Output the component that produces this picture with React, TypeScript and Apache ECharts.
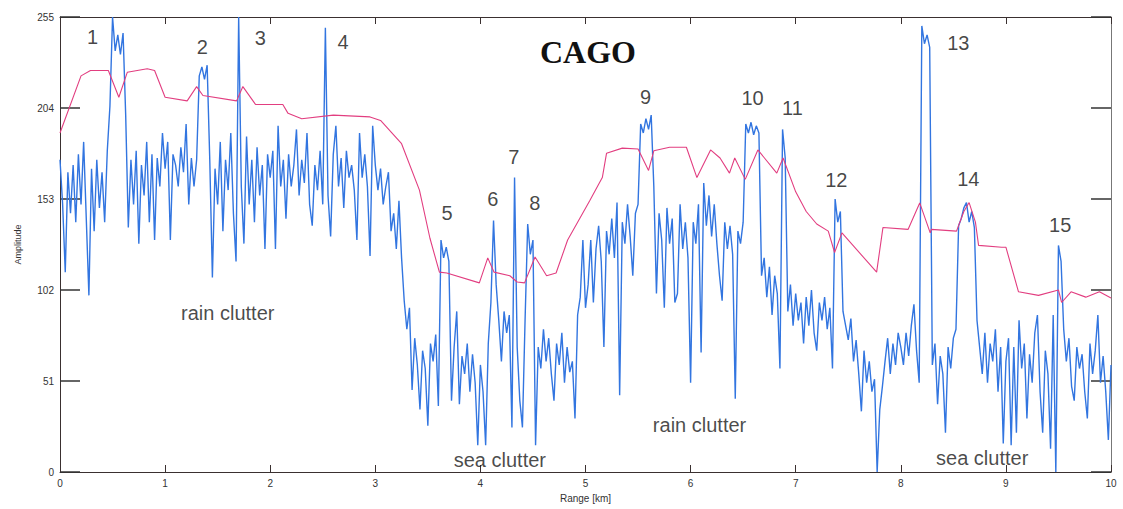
import React, { useEffect, useRef } from "react";
import * as echarts from "echarts";

// Radar return (blue), sampled every 0.025 km, one array per km
const SAMPLE_STEP_KM = 0.025;
const blue0 = [175,150,112,168,145,172,140,178,150,185,142,99,170,135,175,148,168,140,180,205,255,236,245,234,246,200,137,175,150,180,128,172,155,185,140,178,130,176,160,190];
const blue1 = [170,185,130,178,172,160,182,168,195,150,176,160,175,222,227,220,228,175,109,170,150,185,135,175,158,190,145,118,255,160,128,188,150,175,140,182,155,172,125,178];
const blue2 = [165,180,125,194,160,175,142,178,160,172,192,155,175,162,190,150,138,172,158,180,150,249,155,132,178,194,160,176,148,180,165,172,158,130,190,165,178,160,121,194];
const blue3 = [172,158,170,150,160,168,135,145,125,152,120,96,80,92,46,75,60,35,68,58,26,72,62,77,37,130,120,126,118,40,70,90,38,65,55,72,45,66,50,15];
const blue4 = [60,45,15,72,95,141,105,85,62,90,78,88,25,165,70,40,25,85,139,122,130,15,70,58,80,62,75,55,40,72,60,78,50,70,56,62,30,88,98,130];
const blue5 = [92,105,130,95,125,138,118,70,135,122,142,120,151,43,140,128,150,132,110,145,150,195,190,198,192,200,160,100,145,130,92,148,128,142,95,100,150,125,140,120];
const blue6 = [50,140,128,150,67,162,138,155,132,150,128,110,96,140,125,138,122,41,135,128,140,195,190,196,189,194,190,110,120,98,115,88,110,100,58,192,176,90,105,82];
const blue7 = [100,85,95,72,98,82,102,78,68,95,85,98,80,92,58,153,140,146,90,82,74,86,62,74,55,34,68,50,62,45,52,0,35,48,62,75,55,72,60,78];
const blue8 = [70,60,78,65,82,94,68,50,250,240,245,238,60,72,38,65,55,22,70,58,75,80,138,142,148,151,140,146,137,85,70,55,78,50,72,62,80,45,70,16];
const blue9 = [62,75,15,70,22,85,58,72,30,66,50,78,88,45,22,68,55,13,88,0,127,118,80,62,75,48,40,70,58,66,45,30,72,55,68,88,50,65,45,18];
const blueEnd = 60;
const blueSegments = [blue0, blue1, blue2, blue3, blue4, blue5, blue6, blue7, blue8, blue9];

// CAGO threshold (magenta)
const magentaKm = [0,0.2,0.29,0.46,0.56,0.64,0.83,0.9,1.0,1.21,1.3,1.36,1.68,1.74,1.86,2.12,2.17,2.3,2.6,2.95,3.05,3.25,3.42,3.52,3.61,3.68,3.99,4.07,4.13,4.28,4.35,4.42,4.52,4.63,4.72,4.83,5.04,5.16,5.2,5.35,5.5,5.6,5.65,5.8,5.96,6.06,6.19,6.28,6.37,6.42,6.52,6.64,6.82,6.88,7.0,7.1,7.2,7.31,7.37,7.44,7.77,7.83,8.07,8.18,8.28,8.29,8.53,8.6,8.65,8.71,8.74,8.96,9.0,9.12,9.31,9.5,9.53,9.62,9.76,9.89,10];
const magentaVal = [190,222,225,225,210,224,226,225,210,208,216,211,208,216,206,206,201,198,200,199,197,184,158,131,112,111.5,106,120,112,110,106.5,106,120.5,110,111.5,130,152,165,178.6,181.5,181,169,180,182,182,165,180.5,176,167.5,176,164,180.5,167.5,176,157,146,139,135,123,134,112,137,136,150.8,134,136,135,146,151,140,127,126,126,101,99,102,95,101,98,101,97.5];

// Axes
const X_MIN = 0, X_MAX = 10, X_STEP = 1;
const Y_MIN = 0, Y_MAX = 255, Y_STEP = 51;

// Target numbers
const peakLabels = ["1","2","3","4","5","6","7","8","9","10","11","12","13","14","15"];
const peakKm = [0.309,1.354,1.905,2.694,3.682,4.119,4.318,4.518,5.572,6.589,6.969,7.387,8.547,8.642,9.516];
const peakAmp = [243.8,238.2,243.2,241,145.2,153,176.5,150.8,210.2,209.6,204,163.7,240.4,164.2,138.4];

// Region names
const regionLabels = ["rain clutter","sea clutter","rain clutter","sea clutter"];
const regionKm = [1.596,4.185,6.085,8.774];
const regionAmp = [89,6.7,26.3,7.8];

export default function App() {
  const ref = useRef<HTMLDivElement>(null);
  useEffect(() => {
    if (!ref.current) return;
    const chart = echarts.init(ref.current, undefined, { renderer: "svg" });
    const blueData: [number, number][] = [];
    blueSegments.forEach((seg, k) => {
      seg.forEach((v, i) => blueData.push([+(k + i * SAMPLE_STEP_KM).toFixed(3), v]));
    });
    blueData.push([X_MAX, blueEnd]);
    const magentaData = magentaKm.map((x, i) => [x, magentaVal[i]]);
    const peakData = peakKm.map((x, i) => [x, peakAmp[i], peakLabels[i]]);
    const regionData = regionKm.map((x, i) => [x, regionAmp[i], regionLabels[i]]);
    const frame = "#3a3030";
    const sans = "Liberation Sans, Arial, sans-serif";
    chart.setOption({
      animation: false,
      backgroundColor: "#ffffff",
      title: {
        text: "CAGO",
        left: 535,
        top: 31,
        textStyle: { fontFamily: "Liberation Serif, Times New Roman, serif", fontWeight: "bold", fontSize: 32, color: "#111" },
      },
      grid: { left: 60, right: 12, top: 17, bottom: 37, containLabel: false },
      xAxis: [
        {
          type: "value", min: X_MIN, max: X_MAX, interval: X_STEP, position: "bottom",
          name: "Range [km]", nameLocation: "middle", nameGap: 21,
          nameTextStyle: { fontSize: 10, color: "#333", fontFamily: sans },
          axisLine: { show: true, onZero: false, lineStyle: { color: frame, width: 1 } },
          axisTick: { show: true, inside: true, length: 7, lineStyle: { color: frame } },
          axisLabel: { fontSize: 10, color: "#333", margin: 6, fontFamily: sans },
          splitLine: { show: false },
        },
        {
          type: "value", min: X_MIN, max: X_MAX, interval: X_STEP, position: "top",
          axisLine: { show: true, onZero: false, lineStyle: { color: frame, width: 1 } },
          axisTick: { show: true, inside: true, length: 7, lineStyle: { color: frame } },
          axisLabel: { show: false },
          splitLine: { show: false },
        },
      ],
      yAxis: [
        {
          type: "value", min: Y_MIN, max: Y_MAX, interval: Y_STEP, position: "left",
          name: "Amplitude", nameLocation: "middle", nameGap: 38, nameRotate: 90,
          nameTextStyle: { fontSize: 9, color: "#333", fontFamily: sans },
          axisLine: { show: true, onZero: false, lineStyle: { color: frame, width: 1 } },
          axisTick: { show: true, inside: true, length: 20, lineStyle: { color: "#333", width: 1.5 } },
          axisLabel: { fontSize: 10, color: "#333", margin: 6, fontFamily: sans },
          splitLine: { show: false },
        },
        {
          type: "value", min: Y_MIN, max: Y_MAX, interval: Y_STEP, position: "right",
          axisLine: { show: true, onZero: false, lineStyle: { color: "#777", width: 1 } },
          axisTick: { show: true, inside: true, length: 20, lineStyle: { color: "#333", width: 1.5 } },
          axisLabel: { show: false },
          splitLine: { show: false },
        },
      ],
      series: [
        {
          type: "line", data: blueData, showSymbol: false, silent: true, z: 2,
          lineStyle: { color: "#3275e0", width: 1.4 },
        },
        {
          type: "line", data: magentaData, showSymbol: false, silent: true, z: 3,
          lineStyle: { color: "#e23e80", width: 1.1 },
        },
        {
          type: "scatter", data: peakData, symbolSize: 1, silent: true, z: 4,
          itemStyle: { color: "transparent" },
          label: { show: true, position: "inside", formatter: (p: any) => p.value[2], fontSize: 20, color: "#151515", fontFamily: sans },
        },
        {
          type: "scatter", data: regionData, symbolSize: 1, silent: true, z: 4,
          itemStyle: { color: "transparent" },
          label: { show: true, position: "inside", formatter: (p: any) => p.value[2], fontSize: 20, color: "#1a1a1a", fontFamily: sans },
        },
      ],
    });
    return () => chart.dispose();
  }, []);
  return <div ref={ref} style={{ position: "fixed", left: 0, top: 0, width: 1123, height: 509 }} />;
}
